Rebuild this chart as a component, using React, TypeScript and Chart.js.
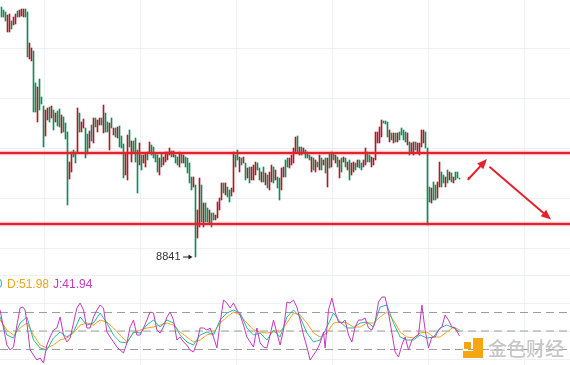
import React, { useEffect, useRef } from 'react';
import { Chart, registerables } from 'chart.js';

Chart.register(...registerables);

// ---- price bars (index = bar number) ----
const HIGH = [
  9091, 9088, 9086, 9083, 9084, 9077, 9081, 9084, 9087, 9088, 9089, 9089, 9089, 9086, 9055, 9050, 9047, 9015, 9011, 9019,
  9001, 8992, 8988, 8990, 8991, 8992, 8988, 8985, 8987, 8989, 8983, 8981, 8975, 8966, 8936, 8946, 8948, 8946, 8990, 8985,
  8976, 8979, 8970, 8964, 8967, 8973, 8980, 8980, 8978, 8980, 8980, 8993, 8985, 8976, 8975, 8980, 8970, 8970, 8971, 8972,
  8962, 8954, 8945, 8963, 8968, 8957, 8957, 8960, 8948, 8955, 8943, 8943, 8945, 8946, 8956, 8953, 8951, 8945, 8943, 8940,
  8945, 8941, 8946, 8946, 8950, 8947, 8947, 8943, 8941, 8946, 8945, 8943, 8941, 8940, 8935, 8921, 8921, 8913, 8888, 8920,
  8913, 8895, 8895, 8890, 8888, 8885, 8885, 8883, 8896, 8900, 8915, 8915, 8915, 8911, 8908, 8910, 8946, 8943, 8948, 8941,
  8940, 8941, 8935, 8930, 8931, 8931, 8933, 8936, 8935, 8930, 8926, 8931, 8925, 8923, 8926, 8933, 8931, 8928, 8921, 8920,
  8930, 8931, 8938, 8940, 8940, 8943, 8950, 8961, 8962, 8951, 8951, 8950, 8948, 8946, 8943, 8941, 8940, 8938, 8936, 8943,
  8940, 8938, 8940, 8940, 8945, 8946, 8945, 8943, 8941, 8938, 8940, 8941, 8940, 8936, 8938, 8935, 8936, 8935, 8938, 8938,
  8935, 8938, 8950, 8946, 8943, 8941, 8940, 8966, 8966, 8971, 8978, 8977, 8977, 8976, 8968, 8965, 8965, 8965, 8965, 8966,
  8970, 8968, 8966, 8965, 8956, 8955, 8956, 8956, 8955, 8955, 8968, 8968, 8966, 8950, 8911, 8910, 8916, 8913, 8916, 8936,
  8926, 8923, 8921, 8928, 8926, 8925, 8921, 8926, 8926, 8920,
];
const LOW = [
  9081, 9081, 9077, 9066, 9066, 9069, 9073, 9074, 9081, 9081, 9082, 9081, 9081, 9041, 9039, 9037, 8986, 8986, 8976, 8988,
  8994, 8951, 8962, 8978, 8976, 8980, 8968, 8976, 8972, 8971, 8965, 8966, 8959, 8893, 8919, 8926, 8941, 8935, 8945, 8966,
  8966, 8970, 8940, 8944, 8950, 8957, 8955, 8971, 8966, 8973, 8973, 8965, 8966, 8966, 8948, 8970, 8963, 8961, 8960, 8951,
  8950, 8920, 8923, 8918, 8951, 8936, 8946, 8936, 8905, 8933, 8928, 8935, 8931, 8938, 8945, 8943, 8940, 8936, 8926, 8923,
  8931, 8933, 8936, 8938, 8943, 8941, 8941, 8935, 8933, 8931, 8935, 8935, 8931, 8925, 8915, 8908, 8911, 8841, 8860, 8871,
  8876, 8871, 8876, 8876, 8875, 8871, 8878, 8878, 8880, 8888, 8898, 8905, 8903, 8901, 8896, 8902, 8906, 8931, 8938, 8926,
  8933, 8935, 8918, 8920, 8915, 8918, 8918, 8923, 8928, 8918, 8916, 8916, 8913, 8910, 8908, 8916, 8915, 8918, 8910, 8898,
  8908, 8921, 8921, 8931, 8930, 8933, 8935, 8945, 8946, 8943, 8943, 8945, 8940, 8940, 8938, 8926, 8928, 8926, 8931, 8928,
  8928, 8933, 8925, 8911, 8930, 8931, 8938, 8935, 8931, 8920, 8926, 8936, 8931, 8928, 8918, 8923, 8926, 8928, 8931, 8930,
  8928, 8931, 8933, 8936, 8936, 8931, 8933, 8938, 8955, 8955, 8961, 8975, 8974, 8961, 8956, 8958, 8955, 8956, 8956, 8958,
  8963, 8958, 8956, 8953, 8943, 8945, 8943, 8948, 8945, 8943, 8951, 8955, 8950, 8873, 8896, 8895, 8898, 8898, 8900, 8911,
  8911, 8915, 8911, 8915, 8918, 8916, 8915, 8918, 8920, 8919,
];
// 1 = rising bar (red), 0 = falling bar (green)
const DIR = [
  0, 0, 0, 1, 1, 0, 1, 1, 0, 1, 1, 1, 0,
  0, 1, 1, 0, 0, 1, 0, 0,
  0, 1, 1, 0, 1, 0, 1, 0, 0, 1, 0, 0,
  0, 1, 1, 0, 0,
  1, 0, 1, 1, 0, 0, 1, 0, 1, 0, 1, 1, 0,
  1, 0, 0, 1, 0, 1, 0, 1, 0, 0,
  0, 1, 1, 0, 1, 0, 0, 0, 1, 0,
  1, 1, 0, 1, 0, 0, 0, 0, 1, 0,
  1, 1, 1, 1, 0, 1, 0, 0, 1, 0,
  1, 0, 0, 0, 0, 1, 0, 1, 1, 0,
  1, 0, 0, 1, 0, 0, 1, 1, 1, 1,
  0, 1, 0, 0, 1, 1, 0, 0, 1, 0,
  1, 0, 1, 0, 1, 1, 1, 0, 0, 1,
  0, 1, 0, 1, 1, 0, 1, 0, 0, 1,
  1, 0, 0, 1, 1, 1, 1, 0, 1, 0,
  1, 0, 0, 0, 1, 0, 1, 0, 1, 0,
  1, 0, 1, 0, 1, 0, 1, 0, 1, 0,
  1, 0, 1, 0, 1, 1, 0, 1, 0, 0,
  1, 1, 0, 0, 1, 1, 1, 1, 1, 1,
  0, 0, 0, 1, 0, 1, 0, 1, 0, 0,
  0, 0, 1, 0, 1, 1, 0, 1, 1, 1,
  1, 0, 0, 0, 1, 0, 0, 1, 1, 0,
  0, 1, 0, 1, 0, 1, 0, 0, 0,
];

const RESISTANCE = 8945;
const SUPPORT = 8874;
const LOW_INDEX = 97;
const LOW_LABEL = '8841';
const LAST_MARK = { x: 233.75, y: 8920 };
const ARROWS = [
  { from: [233.4, 8918.7], to: [242.75, 8939] },
  { from: [244.25, 8930.7], to: [274.75, 8878.5] },
];

// ---- KDJ indicator ----
const KD_X = [
  -0.7, 2.7, 6.0, 9.3, 12.7, 16.0, 19.3, 22.7, 26.0, 29.3, 32.7, 36.0, 39.3, 42.7, 46.0, 49.3, 52.7, 56.0, 59.3, 62.7,
  66.0, 69.3, 72.7, 76.0, 79.3, 82.7, 86.0, 89.3, 92.7, 96.0, 99.3, 102.7, 106.0, 109.3, 112.7, 116.0, 119.3, 122.7, 126.0, 129.3,
  132.7, 136.0, 139.3, 142.7, 146.0, 149.3, 152.7, 156.0, 159.3, 162.7, 166.0, 169.3, 172.7, 176.0, 179.3, 182.7, 186.0, 189.3, 192.7, 196.0,
  199.3, 202.7, 206.0, 209.3, 212.7, 216.0, 219.3, 222.7, 226.0, 229.0,
];
const K_VAL = [
  72.7, 43.5, 38.7, 63.0, 72.7, 35.4, 22.5, 19.2, 38.7, 48.4, 40.3, 48.4, 72.7, 59.7, 63.0, 79.2, 63.0, 43.5, 32.2, 30.6,
  48.4, 46.8, 59.7, 67.8, 56.5, 67.8, 63.0, 43.5, 32.2, 27.3, 43.5, 48.4, 43.5, 67.8, 79.2, 84.0, 79.2, 54.9, 43.5, 46.8,
  35.4, 51.6, 40.3, 72.7, 84.0, 72.7, 46.8, 32.2, 35.4, 56.5, 79.2, 64.6, 54.9, 54.9, 63.0, 64.6, 56.5, 88.9, 92.1, 63.0,
  40.3, 35.4, 35.4, 43.5, 38.7, 40.3, 54.9, 59.7, 54.9, 48.5,
];
const D_VAL = [
  67.8, 51.6, 43.5, 54.9, 63.0, 43.5, 27.3, 22.5, 27.3, 35.4, 38.7, 46.8, 59.7, 63.0, 59.7, 67.8, 64.6, 54.9, 43.5, 32.2,
  46.8, 51.6, 54.9, 56.5, 59.7, 63.0, 59.7, 48.4, 40.3, 32.2, 35.4, 43.5, 46.8, 63.0, 72.7, 80.8, 75.9, 63.0, 51.6, 48.4,
  46.8, 48.4, 48.4, 63.0, 79.2, 75.9, 63.0, 46.8, 40.3, 46.8, 63.0, 64.6, 63.0, 56.5, 56.5, 63.0, 63.0, 72.7, 80.8, 67.8,
  48.4, 40.3, 38.7, 46.8, 48.4, 40.3, 40.3, 48.4, 56.5, 51.98,
];
const J_X = [
  -0.7, 1.0, 2.7, 4.3, 6.0, 7.7, 9.3, 10.7, 11.8, 12.7, 14.3, 16.0, 17.7, 19.3, 21.0, 22.7, 24.3, 26.0, 27.7, 29.3,
  31.0, 32.7, 34.3, 36.0, 37.7, 39.3, 41.0, 42.7, 44.3, 46.0, 47.7, 49.3, 51.0, 52.7, 54.3, 56.0, 57.7, 59.3, 61.0, 62.7,
  64.3, 66.0, 67.7, 69.3, 71.0, 72.7, 74.3, 76.0, 77.7, 79.3, 81.0, 82.7, 84.3, 86.0, 87.7, 89.3, 91.0, 92.7, 94.3, 96.0,
  97.7, 99.3, 101.0, 102.7, 104.3, 106.0, 107.7, 109.3, 111.0, 112.7, 114.3, 116.0, 117.7, 119.3, 121.0, 122.7, 124.3, 126.0, 127.7, 129.3,
  131.0, 132.7, 134.3, 136.0, 137.7, 139.3, 141.0, 142.7, 144.3,
  146.0, 147.7, 149.3, 151.0, 152.7, 154.3, 156.0, 157.7, 159.3, 161.0, 161.8, 163.5, 165.2, 166.8, 168.5, 170.2, 171.8, 173.5, 175.2, 176.8,
  178.5, 180.2, 181.8, 183.5, 185.2, 186.8, 188.5, 190.2, 191.8, 193.5, 195.2, 196.8, 198.5, 200.2, 201.8, 203.5, 205.2, 206.8, 208.5, 210.2,
  211.8, 213.5, 215.2, 216.8, 218.5, 220.2, 221.8, 223.5, 225.2, 226.8, 229.0,
];
const J_VAL = [
  84.0, 54.9, 27.3, 19.2, 24.1, 59.7, 87.3, 88.9, 84.0, 63.0, 19.2, 11.1, 3.0, 6.3, -1.8, 27.3, 40.3, 51.6, 54.9, 72.7,
  43.5, 32.2, 38.7, 63.0, 87.3, 95.4, 84.0, 54.9, 54.9, 72.7, 84.0, 92.1, 87.3, 48.4, 40.3, 32.2, 24.1, 19.2, 14.4, 30.6,
  56.5, 67.8, 43.5, 43.5, 54.9, 67.8, 80.8, 79.2, 51.6, 46.8, 56.5, 72.7, 80.8, 67.8, 35.4, 40.3, 32.2, 27.3, 19.2, 16.0,
  30.6, 54.9, 54.9, 51.6, 54.9, 40.3, 22.5, 63.0, 100.2, 95.4, 87.3, 95.4, 84.0, 75.9, 59.7, 40.3, 32.2, 24.1, 54.9, 30.6,
  24.1, 22.5, 43.5, 67.8, 46.8, 27.3, 51.6, 97.0, 95.4,
  100.2, 88.9, 67.8, 43.5, 24.1, 3.0, 11.1, 19.2, 30.6, 48.4, 22.5, 84.0, 103.5, 80.8, 64.6, 63.0, 67.8, 43.5, 32.2, 56.5,
  67.8, 67.8, 71.1, 54.9, 51.6, 64.6, 97.0, 105.1, 105.1, 79.2, 46.8, 16.0, 7.9, 27.3, 40.3, 19.2, 35.4, 40.3, 43.5, 92.1,
  51.6, 22.5, 40.3, 40.3, 51.6, 56.5, 75.9, 67.8, 56.5, 54.9, 41.94,
];
const KDJ_LEVELS = [80, 50, 20];

// ---- axes ----
const X_MIN = -0.75;
const X_MAX = 284.25;
const X_GRID = [21.25, 69.25, 117.25, 165.25, 213.25, 261.25];
const PRICE_MIN = 8826;
const PRICE_MAX = 9098;
const PRICE_GRID = [8850, 8900, 8950, 9000, 9050];
const KDJ_MIN = -5.1;
const KDJ_MAX = 145.7;
const KDJ_GRID = [4.6, 50, 95.4, 140.8];

const RED_BAR = '#ab1c2b';
const GREEN_BAR = '#148a5c';
const LINE_RED = '#e5222b';
const GRID = '#edf0f4';
const K_COLOR = '#26b7a0';
const D_COLOR = '#f2a31b';
const J_COLOR = '#c23ac0';
const FONT = '"Liberation Sans", Arial, sans-serif';

const W = 570;
const MAIN_H = 272;
const IND_H = 93;

function xAxis() {
  return {
    type: 'linear' as const,
    min: X_MIN,
    max: X_MAX,
    offset: false,
    ticks: { display: false },
    grid: { color: GRID, drawTicks: false, offset: false, lineWidth: 1 },
    border: { display: false },
    afterBuildTicks: (ax: any) => {
      ax.ticks = X_GRID.map((v) => ({ value: v }));
    },
  };
}
function yAxis(min: number, max: number, grid: number[]) {
  return {
    type: 'linear' as const,
    min,
    max,
    ticks: { display: false },
    grid: { color: GRID, drawTicks: false, lineWidth: 1 },
    border: { display: false },
    afterBuildTicks: (ax: any) => {
      ax.ticks = grid.map((v) => ({ value: v }));
    },
  };
}

function drawArrow(
  ctx: CanvasRenderingContext2D,
  x1: number,
  y1: number,
  x2: number,
  y2: number,
  color: string,
  width: number,
  head: number,
  half: number
) {
  const ang = Math.atan2(y2 - y1, x2 - x1);
  const bx = x2 - Math.cos(ang) * head;
  const by = y2 - Math.sin(ang) * head;
  ctx.strokeStyle = color;
  ctx.fillStyle = color;
  ctx.lineWidth = width;
  ctx.lineCap = 'round';
  ctx.beginPath();
  ctx.moveTo(x1, y1);
  ctx.lineTo(bx + Math.cos(ang) * 2, by + Math.sin(ang) * 2);
  ctx.stroke();
  ctx.beginPath();
  ctx.moveTo(x2, y2);
  ctx.lineTo(bx + Math.sin(ang) * half, by - Math.cos(ang) * half);
  ctx.lineTo(bx - Math.sin(ang) * half, by + Math.cos(ang) * half);
  ctx.closePath();
  ctx.fill();
}

const mainPlugin = {
  id: 'mainAnnotations',
  afterDatasetsDraw(chart: any) {
    const { ctx, scales } = chart;
    const x = scales.x;
    const y = scales.y;
    ctx.save();
    const lx = x.getPixelForValue(LOW_INDEX);
    const ly = y.getPixelForValue(LOW[LOW_INDEX]);
    ctx.font = `11px ${FONT}`;
    ctx.fillStyle = '#333333';
    ctx.textAlign = 'right';
    ctx.textBaseline = 'middle';
    ctx.fillText(LOW_LABEL, lx - 15, ly);
    drawArrow(ctx, lx - 12, ly, lx - 3, ly, '#222222', 1.2, 4, 2.5);
    for (const a of ARROWS) {
      drawArrow(
        ctx,
        x.getPixelForValue(a.from[0]),
        y.getPixelForValue(a.from[1]),
        x.getPixelForValue(a.to[0]),
        y.getPixelForValue(a.to[1]),
        LINE_RED,
        2,
        10,
        4.2
      );
    }
    ctx.restore();
  },
};

const indPlugin = {
  id: 'indAnnotations',
  afterDatasetsDraw(chart: any) {
    const { ctx } = chart;
    ctx.save();
    ctx.font = `12px ${FONT}`;
    ctx.textBaseline = 'middle';
    ctx.textAlign = 'right';
    ctx.fillStyle = K_COLOR;
    ctx.fillText('K:' + K_VAL[K_VAL.length - 1].toFixed(2), 2.5, 12.5);
    ctx.textAlign = 'left';
    ctx.fillStyle = D_COLOR;
    ctx.fillText('D:' + D_VAL[D_VAL.length - 1].toFixed(2), 7, 12.5);
    ctx.fillStyle = J_COLOR;
    ctx.fillText('J:' + J_VAL[J_VAL.length - 1].toFixed(2), 53, 12.5);

    // watermark logo
    ctx.fillStyle = '#f4a711';
    ctx.fillRect(473, 66, 10, 20);
    ctx.fillRect(463, 79, 12, 7);
    ctx.fillRect(464, 70, 7, 7);
    ctx.font = `500 19px "Noto Sans CJK SC", sans-serif`;
    ctx.fillStyle = '#c6c6c6';
    ctx.textAlign = 'left';
    ctx.fillText('金色财经', 488, 76.5);
    ctx.restore();
  },
};

export default function App() {
  const mainRef = useRef<HTMLCanvasElement>(null);
  const indRef = useRef<HTMLCanvasElement>(null);

  useEffect(() => {
    const hLine = (v: number, color: string, width: number, order: number) => ({
      type: 'line' as const,
      data: [
        { x: X_MIN, y: v },
        { x: X_MAX, y: v },
      ],
      borderColor: color,
      borderWidth: width,
      pointRadius: 0,
      pointHoverRadius: 0,
      order,
    });

    const main = new Chart(mainRef.current!, {
      type: 'bar',
      data: {
        datasets: [
          {
            type: 'bar',
            data: HIGH.map((h, i) => ({ x: i, y: [LOW[i], h] })) as any,
            backgroundColor: DIR.map((d) => (d ? RED_BAR : GREEN_BAR)),
            barThickness: 1,
            borderWidth: 0,
            order: 5,
          } as any,
          hLine(RESISTANCE, 'rgba(229,34,43,0.28)', 4.5, 2),
          hLine(RESISTANCE, LINE_RED, 2, 1),
          hLine(SUPPORT, 'rgba(229,34,43,0.28)', 4.5, 2),
          hLine(SUPPORT, LINE_RED, 2, 1),
          {
            type: 'scatter',
            data: [LAST_MARK],
            pointRadius: 1.3,
            pointHoverRadius: 0,
            pointBackgroundColor: LINE_RED,
            pointBorderWidth: 0,
            order: 0,
          } as any,
        ],
      },
      options: {
        responsive: false,
        animation: false,
        events: [],
        layout: { padding: 0, autoPadding: false },
        plugins: { legend: { display: false }, tooltip: { enabled: false } },
        scales: {
          x: xAxis() as any,
          y: yAxis(PRICE_MIN, PRICE_MAX, PRICE_GRID) as any,
        },
      },
      plugins: [mainPlugin],
    });

    const series = (xs: number[], vals: number[], color: string, order: number) => ({
      data: xs.map((x, i) => ({ x, y: vals[i] })),
      borderColor: color,
      borderWidth: 1,
      pointRadius: 0,
      pointHoverRadius: 0,
      tension: 0,
      order,
    });

    const ind = new Chart(indRef.current!, {
      type: 'line',
      data: {
        datasets: [
          ...KDJ_LEVELS.map((v) => ({
            data: [
              { x: X_MIN, y: v },
              { x: X_MAX, y: v },
            ],
            borderColor: '#9c9c9c',
            borderWidth: 1,
            borderDash: [8, 5],
            pointRadius: 0,
            pointHoverRadius: 0,
            order: 10,
          })),
          series(KD_X, D_VAL, D_COLOR, 3),
          series(KD_X, K_VAL, K_COLOR, 2),
          series(J_X, J_VAL, J_COLOR, 1),
        ] as any,
      },
      options: {
        responsive: false,
        animation: false,
        events: [],
        layout: { padding: 0, autoPadding: false },
        plugins: { legend: { display: false }, tooltip: { enabled: false } },
        scales: {
          x: xAxis() as any,
          y: yAxis(KDJ_MIN, KDJ_MAX, KDJ_GRID) as any,
        },
      },
      plugins: [indPlugin],
    });

    return () => {
      main.destroy();
      ind.destroy();
    };
  }, []);

  return (
    <div style={{ position: 'absolute', left: 0, top: 0, width: W, height: 365, background: '#ffffff', overflow: 'hidden' }}>
      <canvas ref={mainRef} width={W} height={MAIN_H} style={{ position: 'absolute', left: 0, top: 0 }} />
      <canvas ref={indRef} width={W} height={IND_H} style={{ position: 'absolute', left: 0, top: MAIN_H }} />
    </div>
  );
}
